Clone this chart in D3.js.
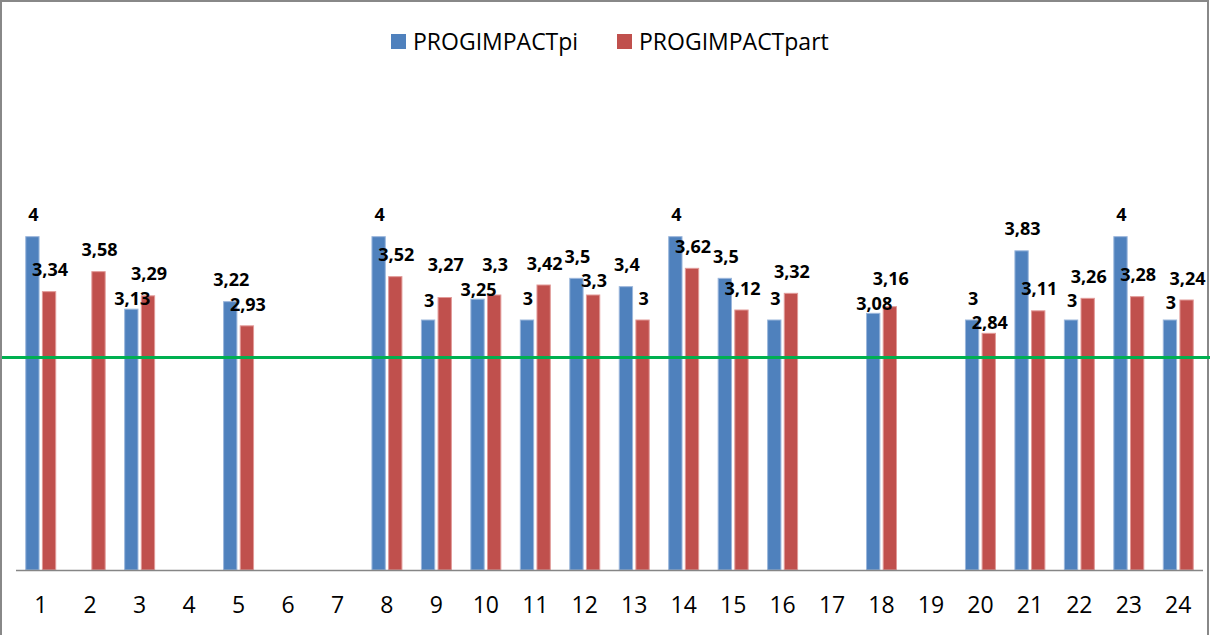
<html>
<head>
 <meta http-equiv="Content-Type" content="text/html; charset=UTF-8">
 <title>PROGIMPACT</title>
 <style>
body { margin: 0; background: white; }
.cat_label { font-family: "Open Sans", sans-serif; font-size: 23px; fill: black; }
.val_label { font-family: "Open Sans", sans-serif; font-size: 18px; font-weight: bold; fill: black; }
.legend_text { font-family: "Open Sans", sans-serif; font-size: 23px; fill: black; }
 </style>
</head>
<body>
<div id="chart"></div>

<script src="https://d3js.org/d3.v7.min.js"></script>
<script>
// data (null = no bar)
var categories = ["1","2","3","4","5","6","7","8","9","10","11","12",
                  "13","14","15","16","17","18","19","20","21","22","23","24"];
var seriesNames = ["PROGIMPACTpi", "PROGIMPACTpart"];
var valuesPi   = [4, null, 3.13, null, 3.22, null, null, 4, 3, 3.25, 3, 3.5,
                  3.4, 4, 3.5, 3, null, 3.08, null, 3, 3.83, 3, 4, 3];
var valuesPart = [3.34, 3.58, 3.29, null, 2.93, null, null, 3.52, 3.27, 3.3, 3.42, 3.3,
                  3, 3.62, 3.12, 3.32, null, 3.16, null, 2.84, 3.11, 3.26, 3.28, 3.24];
var threshold = 2.55;
var yMax = 6;

function drawChart() {
	var width = 1210; var height = 635;
	var colors = ["#4F81BD", "#C0504D"];
	var edges  = ["#9BB7DC", "#E29A98"];

	var svg = d3.select("#chart").append("svg")
		.attr("width", width)
		.attr("height", height);

	// chart border
	svg.append("rect")
		.attr("x", 1).attr("y", 1)
		.attr("width", 1207).attr("height", 700)
		.attr("fill", "white")
		.attr("stroke", "#888888")
		.attr("stroke-width", 2);

	var x0 = d3.scaleBand()
		.domain(categories)
		.range([16, 1203])
		.paddingInner(0.394)
		.paddingOuter(0.197);

	var x1 = d3.scaleBand()
		.domain(seriesNames)
		.range([0, x0.bandwidth()])
		.paddingInner(0.2);

	var y = d3.scaleLinear()
		.domain([0, yMax])
		.range([570, 70]);

	var rows = [];
	categories.forEach(function (c, i) {
		rows.push({cat: c, key: seriesNames[0], v: valuesPi[i], s: 0});
		rows.push({cat: c, key: seriesNames[1], v: valuesPart[i], s: 1});
	});
	rows = rows.filter(function (d) { return d.v != null; });

	var fmt = function (v) { return String(v).replace(".", ","); };

	svg.append("g").selectAll("rect")
		.data(rows)
		.enter()
		.append("rect")
		.attr("x", function (d) { return x0(d.cat) + x1(d.key); })
		.attr("y", function (d) { return y(d.v); })
		.attr("width", x1.bandwidth())
		.attr("height", function (d) { return y(0) - y(d.v); })
		.attr("fill", function (d) { return colors[d.s]; })
		.attr("stroke", function (d) { return edges[d.s]; })
		.attr("stroke-width", 1);

	// category axis line and labels
	svg.append("line")
		.attr("x1", 16).attr("x2", 1203)
		.attr("y1", y(0) + 0.5).attr("y2", y(0) + 0.5)
		.attr("stroke", "#868686")
		.attr("stroke-width", 1.5);

	svg.append("g").selectAll("text")
		.data(categories)
		.enter()
		.append("text")
		.attr("class", "cat_label")
		.attr("x", function (d) { return x0(d) + x0.bandwidth() / 2; })
		.attr("y", 613)
		.attr("text-anchor", "middle")
		.text(function (d) { return d; });

	// threshold line
	svg.append("line")
		.attr("x1", 2).attr("x2", width)
		.attr("y1", y(threshold)).attr("y2", y(threshold))
		.attr("stroke", "#00B050")
		.attr("stroke-width", 3);

	// value labels: start above the bar, then nudge apart the ones that collide
	var labels = svg.append("g").selectAll("text")
		.data(rows)
		.enter()
		.append("text")
		.attr("class", "val_label")
		.attr("text-anchor", "middle")
		.attr("x", function (d) { return x0(d.cat) + x1(d.key) + x1.bandwidth() / 2 + 1; })
		.text(function (d) { return fmt(d.v); });

	labels.each(function (d) {
		d.cx = x0(d.cat) + x1(d.key) + x1.bandwidth() / 2 + 1;
		d.w = this.getComputedTextLength();
		d.top = y(d.v);
		d.cy = d.top - 22;
	});

	var h = 24.5;
	for (var it = 0; it < 8; it++) {
		for (var i = 0; i < rows.length; i++) {
			for (var j = i + 1; j < rows.length; j++) {
				var a = rows[i], b = rows[j];
				if (Math.abs(a.cx - b.cx) >= (a.w + b.w) / 2 + 1) continue;
				var dy = Math.abs(a.cy - b.cy);
				if (dy >= h) continue;
				var lo = a.cy >= b.cy ? a : b;
				var hi = lo === a ? b : a;
				var need = h - dy;
				var down = Math.max(0, Math.min(need, lo.top - 10 - lo.cy));
				lo.cy += down;
				hi.cy -= (need - down);
			}
		}
	}

	labels.attr("y", function (d) { return d.cy + 6.5; });

	// legend
	var legendX = [391, 617];
	var legend = svg.append("g").selectAll("g")
		.data(seriesNames)
		.enter()
		.append("g")
		.attr("transform", function (d, i) { return "translate(" + legendX[i] + ",34)"; });
	legend.append("rect")
		.attr("width", 15).attr("height", 15)
		.attr("fill", function (d, i) { return colors[i]; });
	legend.append("text")
		.attr("class", "legend_text")
		.attr("x", 22).attr("y", 16)
		.text(function (d) { return d; });
}

drawChart();
</script>
</body>
</html>
